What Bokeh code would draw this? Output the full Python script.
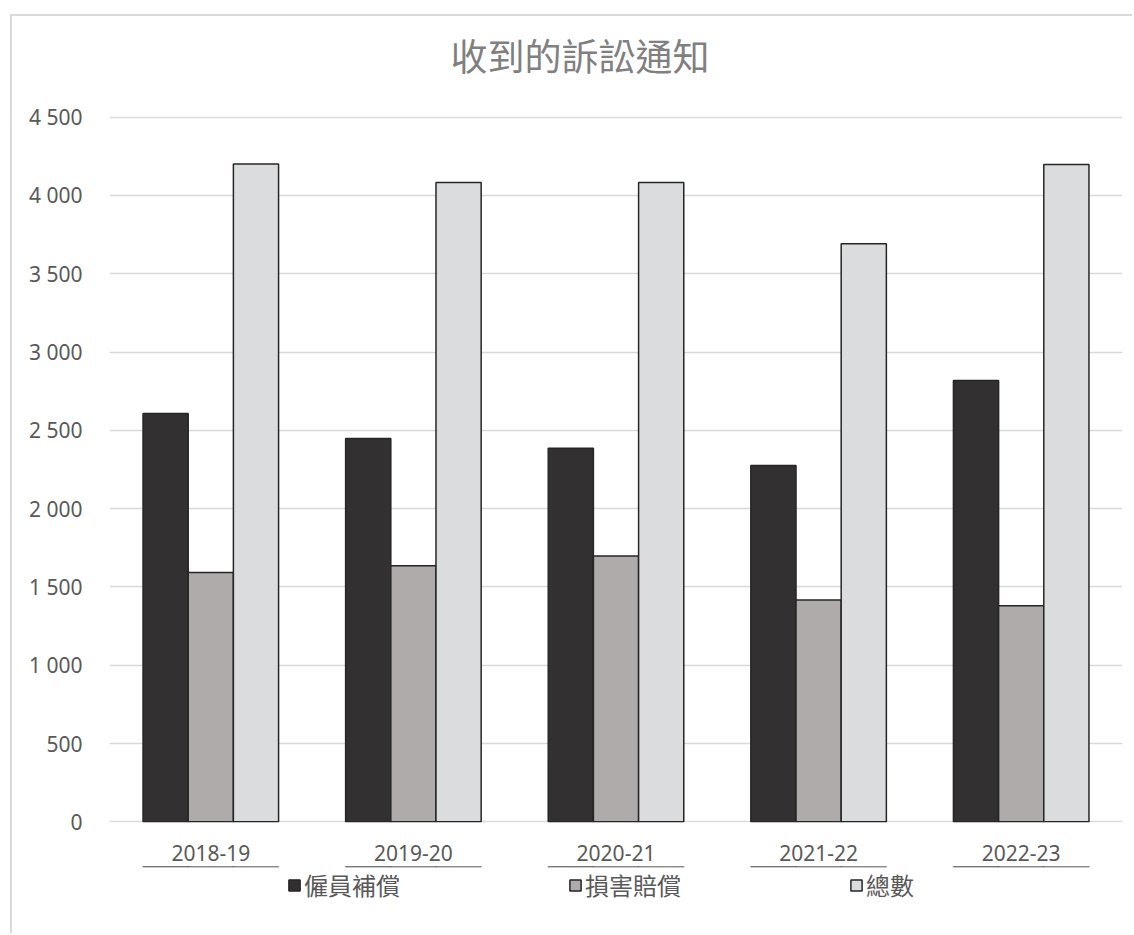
from bokeh.plotting import figure
from bokeh.layouts import column
from bokeh.models import FixedTicker, Legend, LegendItem, Title, ColumnDataSource, Range1d
from bokeh.transform import dodge
from bokeh.embed import file_html
from bokeh.resources import INLINE

# Litigation notices received per financial year
years = ["2018-19", "2019-20", "2020-21", "2021-22", "2022-23"]
employee_comp = [2608, 2448, 2385, 2275, 2818]     # 僱員補償
damages = [1592, 1635, 1698, 1416, 1380]           # 損害賠償
totals = [4200, 4083, 4083, 3691, 4198]            # 總數

series_names = ["僱員補償", "損害賠償", "總數"]
y_ticks = [0, 500, 1000, 1500, 2000, 2500, 3000, 3500, 4000, 4500]
chart_title = "收到的訴訟通知"

CJK = "Noto Sans CJK TC"
LATIN = "Noto Sans"

source = ColumnDataSource(dict(year=years, emp=employee_comp, dmg=damages, tot=totals))

# small pad around 0..4500 so the outer grid lines are not clipped
p = figure(
    x_range=years,
    y_range=(-4, 4504),
    frame_width=1011,
    frame_height=704,
    output_backend="svg",
    toolbar_location=None,
    min_border_left=97,
    min_border_top=100,
    min_border_right=12,
    min_border_bottom=46,
    title=chart_title,
)
p.styles = {"border-top": "2px solid #d9d9d9", "border-left": "2px solid #d9d9d9"}

p.outline_line_color = None
p.background_fill_color = "white"
p.border_fill_color = "white"

p.title.align = "left"
p.title.offset = 341
p.title.standoff = 0
p.title.text_font = CJK
p.title.text_font_size = "37px"
p.title.text_font_style = "normal"
p.title.text_color = "#808080"

# empty band between the title and the plot area
spacer = Title(text=" ", text_font_size="10px", standoff=22)
p.add_layout(spacer, "above")

bar_w = 0.223
colors = ["#323031", "#afabaa", "#dbdcde"]
fields = ["emp", "dmg", "tot"]
offsets = [-bar_w, 0.0, bar_w]
for f, c, off in zip(fields, colors, offsets):
    p.vbar(
        x=dodge("year", off, range=p.x_range),
        top=f,
        bottom=0,
        width=bar_w,
        source=source,
        fill_color=c,
        line_color="#262626",
        line_width=1.5,
    )

# grid and axes
p.xgrid.grid_line_color = None
p.ygrid.grid_line_color = "#d9d9d9"
p.ygrid.grid_line_width = 1.5
p.ygrid.level = "underlay"

p.yaxis.ticker = FixedTicker(ticks=y_ticks)
p.yaxis.major_label_overrides = {t: f"{t:,}".replace(",", " ") for t in y_ticks}
for ax in (p.xaxis[0], p.yaxis[0]):
    ax.axis_line_color = None
    ax.major_tick_line_color = None
    ax.minor_tick_line_color = None
    ax.major_label_text_font = LATIN
    ax.major_label_text_font_size = "21px"
    ax.major_label_text_color = "#595959"
p.yaxis.major_label_standoff = 21
p.xaxis.major_label_standoff = 16

# legend strip under the chart; its bar renderers sit outside the strip's
# visible y range, so only their legend swatches show
lg = figure(
    x_range=years,
    y_range=Range1d(-2, -1),
    frame_width=1011,
    frame_height=67,
    min_border_left=97,
    min_border_right=12,
    min_border_top=0,
    min_border_bottom=0,
    x_axis_type=None,
    y_axis_type=None,
    output_backend="svg",
    toolbar_location=None,
)
lg.styles = {"border-left": "2px solid #d9d9d9"}
lg.outline_line_color = None
lg.background_fill_color = "white"
lg.border_fill_color = "white"
lg.xgrid.visible = False
lg.ygrid.visible = False

swatches = []
for f, c, off in zip(fields, colors, offsets):
    swatches.append(
        lg.vbar(
            x=dodge("year", off, range=lg.x_range),
            top=f,
            bottom=0,
            width=bar_w,
            source=source,
            fill_color=c,
            line_color="#262626",
            line_width=1.5,
        )
    )

legend = Legend(
    items=[LegendItem(label=n, renderers=[r]) for n, r in zip(series_names, swatches)],
    orientation="horizontal",
    location=(178, 31),
    spacing=168,
    glyph_width=14,
    glyph_height=14,
    label_standoff=3,
    label_text_font=CJK,
    label_text_font_size="24px",
    label_text_color="#595959",
    border_line_color=None,
    background_fill_alpha=0,
    margin=0,
    padding=0,
)
lg.add_layout(legend)

layout = column(p, lg, spacing=0)
layout.margin = (14, 0, 0, 10)

open("out.html", "w").write(file_html(layout, INLINE))
